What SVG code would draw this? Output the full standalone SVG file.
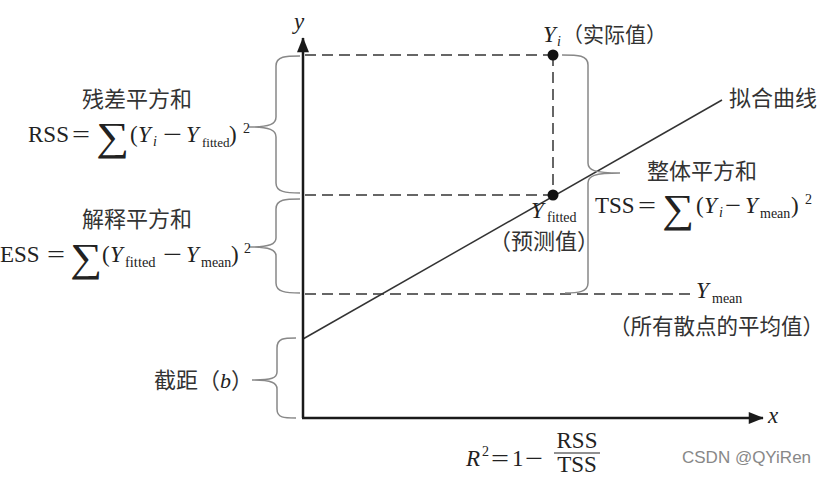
<svg xmlns="http://www.w3.org/2000/svg" width="830" height="477" viewBox="0 0 830 477">
<defs>
<style>
.cjk{font-family:"Noto Sans CJK SC","Noto Sans",sans-serif;font-size:22px;fill:#333}
.m{font-family:"Liberation Serif",serif;font-size:23px;fill:#222}
.it{font-style:italic}
.sub{font-size:14px}
.sig{font-family:"Liberation Serif","DejaVu Serif",serif;font-size:40px;font-weight:normal}
.axis{stroke:#1a1a1a;stroke-width:2.5;fill:none}
.dash{stroke:#666;stroke-width:2;stroke-dasharray:11 6;fill:none}
.brace{stroke:#888;stroke-width:1.5;fill:none}
.line{stroke:#333;stroke-width:1.5;fill:none}
.wm{font-family:"Liberation Sans",sans-serif;font-size:17px;fill:#888}
</style>
<marker id="ah2" viewBox="0 0 20 16" refX="19" refY="8" markerWidth="20" markerHeight="12" markerUnits="userSpaceOnUse" orient="auto">
<path d="M0,0 L20,8 L0,16 z" fill="#1a1a1a"/>
</marker>
</defs>
<rect width="830" height="477" fill="#fff"/>

<g id="connectors">
<line class="dash" x1="305" y1="55" x2="553" y2="55"/>
<line class="dash" x1="553" y1="55" x2="553" y2="195"/>
<line class="dash" x1="305" y1="195" x2="553" y2="195"/>
<line class="dash" x1="305" y1="294" x2="692" y2="294"/>
<line class="line" x1="303" y1="339" x2="722" y2="100"/>
<line class="axis" x1="303" y1="418" x2="303" y2="38" marker-end="url(#ah2)"/>
<line class="axis" x1="302" y1="418" x2="763" y2="418" marker-end="url(#ah2)"/>
</g>

<g id="axis-labels">
<text class="m it" x="294" y="29">y</text>
<text class="m it" x="768" y="423">x</text>
</g>

<g id="point-yi">
<circle cx="553" cy="55" r="5.5" fill="#111"/>
<text class="m it" x="543" y="42">Y</text>
<text class="m it sub" x="557" y="46">i</text>
<text class="cjk" x="562" y="42" style="font-size:21px">（实际值）</text>
</g>

<g id="point-fitted">
<circle cx="553" cy="195" r="5.5" fill="#111"/>
<text class="m it" x="531" y="218">Y</text>
<text class="m sub" x="547" y="222">fitted</text>
<text class="cjk" x="489" y="249">（预测值）</text>
</g>

<g id="fit-line-label">
<text class="cjk" x="729" y="106">拟合曲线</text>
</g>

<g id="ymean">
<text class="m it" x="696" y="298">Y</text>
<text class="m sub" x="712" y="303">mean</text>
<text class="cjk" x="609" y="334" style="font-size:21.5px">（所有散点的平均值）</text>
</g>

<g id="rss">
<path class="brace" d="M300,56 C286,56 276,56 276,66 L276,117 C276,124 270,127 249,127 C270,127 276,130 276,137 L276,183 C276,192 286,193 300,193"/>
<text class="cjk" x="82" y="107">残差平方和</text>
<text class="m" x="28" y="142">RSS</text>
<text class="m" x="72" y="142" textLength="18" lengthAdjust="spacingAndGlyphs">=</text>
<text class="m sig" x="96" y="150" textLength="33" lengthAdjust="spacingAndGlyphs">∑</text>
<text class="m" x="130" y="142">(</text>
<text class="m it" x="138" y="142">Y</text>
<text class="m it sub" x="153" y="146">i</text>
<text class="m" x="163" y="142" textLength="19" lengthAdjust="spacingAndGlyphs">−</text>
<text class="m it" x="186" y="142">Y</text>
<text class="m" x="202" y="147" style="font-size:13px">fitted</text>
<text class="m" x="229" y="142">)</text>
<text class="m sub" x="243" y="133">2</text>
</g>

<g id="ess">
<path class="brace" d="M300,199 C286,199 276,199 276,209 L276,238 C276,244 270,247 249,247 C270,247 276,250 276,256 L276,283 C276,292 286,293 300,293"/>
<text class="cjk" x="82" y="227">解释平方和</text>
<text class="m" x="0" y="262">ESS</text>
<text class="m" x="47" y="262" textLength="18" lengthAdjust="spacingAndGlyphs">=</text>
<text class="m sig" x="70" y="271" textLength="32" lengthAdjust="spacingAndGlyphs">∑</text>
<text class="m" x="102" y="262">(</text>
<text class="m it" x="110" y="262">Y</text>
<text class="m" x="125" y="267" style="font-size:14.5px">fitted</text>
<text class="m" x="163" y="262" textLength="19" lengthAdjust="spacingAndGlyphs">−</text>
<text class="m it" x="186" y="262">Y</text>
<text class="m sub" x="201" y="267">mean</text>
<text class="m" x="231" y="262">)</text>
<text class="m sub" x="244" y="253">2</text>
</g>

<g id="tss">
<path class="brace" d="M562,55 C578,55 588,55 588,65 L588,163 C588,170 594,173 620,173 C594,173 588,176 588,183 L588,283 C588,292 578,293 565,293"/>
<text class="cjk" x="647" y="179">整体平方和</text>
<text class="m" x="595" y="213">TSS</text>
<text class="m" x="638" y="213" textLength="18" lengthAdjust="spacingAndGlyphs">=</text>
<text class="m sig" x="662" y="222" textLength="32" lengthAdjust="spacingAndGlyphs">∑</text>
<text class="m" x="696" y="213">(</text>
<text class="m it" x="704" y="213">Y</text>
<text class="m it sub" x="719" y="217">i</text>
<text class="m" x="725" y="213" textLength="16" lengthAdjust="spacingAndGlyphs">−</text>
<text class="m it" x="745" y="213">Y</text>
<text class="m sub" x="760" y="218">mean</text>
<text class="m" x="791" y="213">)</text>
<text class="m sub" x="805" y="204">2</text>
</g>

<g id="intercept">
<path class="brace" d="M296,338 C284,338 277,338 277,348 L277,372 C277,378 272,380 252,380 C272,380 277,383 277,389 L277,409 C277,418 284,418 296,418"/>
<text class="cjk" x="154" y="388">截距（<tspan class="m it" style="font-size:22px">b</tspan>）</text>
</g>

<g id="r2">
<text class="m it" x="466" y="466">R</text>
<text class="m sub" x="482" y="456">2</text>
<text class="m" x="491" y="466" textLength="18" lengthAdjust="spacingAndGlyphs">=</text>
<text class="m" x="512" y="466">1</text>
<text class="m" x="525" y="466" textLength="18" lengthAdjust="spacingAndGlyphs">−</text>
<text class="m" x="577" y="448" text-anchor="middle">RSS</text>
<line x1="554" y1="453" x2="600" y2="453" stroke="#222" stroke-width="1.2"/>
<text class="m" x="577" y="472" text-anchor="middle">TSS</text>
</g>

<text class="wm" x="682" y="463">CSDN @QYiRen</text>
</svg>
